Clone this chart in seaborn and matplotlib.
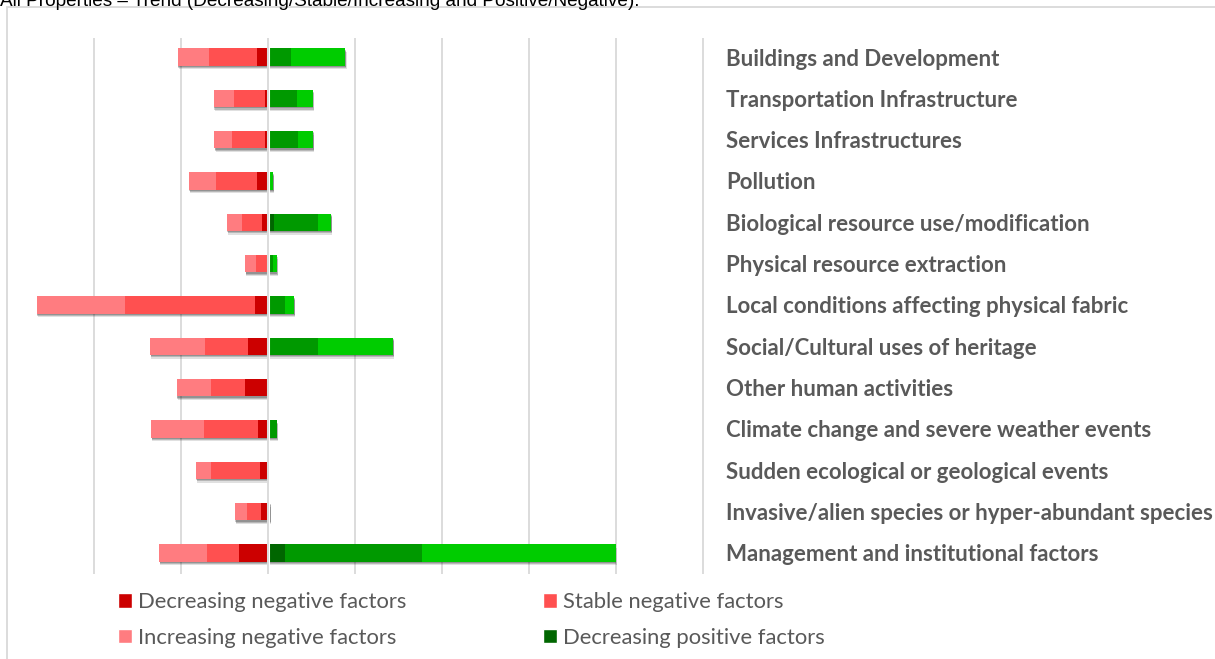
"""
Diverging stacked bar chart: trend of negative / positive factors per factor group
"""

import numpy as np
import pandas as pd
import seaborn as sns
import matplotlib.pyplot as plt
import matplotlib.patheffects as pe
from matplotlib.patches import Rectangle, Patch

sns.set_style('white')
plt.rcParams['font.family'] = ['Lato', 'DejaVu Sans']

title = "All Properties \u2013 Trend (Decreasing/Stable/Increasing and Positive/Negative)."

categories = [
    "Buildings and Development",
    "Transportation Infrastructure",
    "Services Infrastructures",
    "Pollution",
    "Biological resource use/modification",
    "Physical resource extraction",
    "Local conditions affecting physical fabric",
    "Social/Cultural uses of heritage",
    "Other human activities",
    "Climate change and severe weather events",
    "Sudden ecological or geological events",
    "Invasive/alien species or hyper-abundant species",
    "Management and institutional factors",
]

# values (one gridline = 10)
dec_neg = [1.3, 0.35, 0.35, 1.3, 0.7, 0.0, 1.5, 2.35, 2.65, 1.15, 0.95, 0.85, 3.35]
stable_neg = [5.5, 3.6, 3.8, 4.7, 2.25, 1.4, 14.9, 4.9, 3.95, 6.2, 5.6, 1.55, 3.65]
inc_neg = [3.6, 2.3, 2.0, 3.1, 1.8, 1.2, 10.2, 6.3, 3.9, 6.1, 1.75, 1.4, 5.5]
dec_pos = [0.0, 0.0, 0.0, 0.0, 0.7, 0.0, 0.0, 0.0, 0.0, 0.0, 0.0, 0.0, 2.0]
stable_pos = [2.6, 3.3, 3.45, 0.0, 5.0, 0.55, 1.95, 5.7, 0.0, 1.0, 0.0, 0.25, 15.75]
inc_pos = [6.3, 1.85, 1.75, 0.6, 1.55, 0.45, 1.05, 8.7, 0.0, 0.0, 0.0, 0.0, 22.2]

series_names = ["Decreasing negative factors", "Stable negative factors",
                "Increasing negative factors", "Decreasing positive factors",
                "Stable positive factors", "Increasing positive factors"]
colors = ["#CC0000", "#FF5050", "#FF7C80", "#006600", "#009900", "#00CC00"]

df = pd.DataFrame({"factor": categories,
                   "dec_neg": dec_neg, "stable_neg": stable_neg, "inc_neg": inc_neg,
                   "dec_pos": dec_pos, "stable_pos": stable_pos, "inc_pos": inc_pos})

W, H = 1215, 659
fig = plt.figure(figsize=(W / 100, H / 100), dpi=100)
x0, x1 = -27.0, 50.3
ppu = (703 - 94) / 70.0
left_px = 268 - (0 - x0) * ppu
ax = fig.add_axes([left_px / W, 1 - 574 / H, (x1 - x0) * ppu / W, (574 - 38) / H])

bar_h = 0.42
shadow = [pe.SimplePatchShadow(offset=(0.8, -2.6), shadow_rgbFace='black', alpha=0.12),
          pe.SimplePatchShadow(offset=(0.6, -1.8), shadow_rgbFace='black', alpha=0.18),
          pe.SimplePatchShadow(offset=(0.4, -1.0), shadow_rgbFace='black', alpha=0.2),
          pe.Normal()]

# negative side: draw cumulative layers from outermost to innermost
neg_layers = [(["dec_neg", "stable_neg", "inc_neg"], colors[2]),
              (["dec_neg", "stable_neg"], colors[1]),
              (["dec_neg"], colors[0])]
pos_layers = [(["dec_pos", "stable_pos", "inc_pos"], colors[5]),
              (["dec_pos", "stable_pos"], colors[4]),
              (["dec_pos"], colors[3])]

for sign, layers in [(-1, neg_layers), (1, pos_layers)]:
    for i, (cols, c) in enumerate(layers):
        vals = sign * df[cols].sum(axis=1)
        n_before = len(ax.patches)
        sns.barplot(x=vals, y=df["factor"], orient='h', color=c, saturation=1,
                    width=bar_h, linewidth=0, ax=ax, zorder=2)
        if i == 0:
            for p in ax.patches[n_before:]:
                p.set_path_effects(shadow)

# white gap + grey line at the centre
ax.axvline(0, color='white', lw=2.2, zorder=3)
ax.axvline(0, color='#D9D9D9', lw=1.3, zorder=4)

ax.set_xlim(x0, x1)
ax.set_ylim(len(categories) - 1 + 0.51, -0.46)
ax.set_xticks(np.arange(-20, 51, 10))
ax.set_xticklabels([])
ax.grid(axis='x', color='#D9D9D9', lw=1.3)
ax.grid(axis='y', visible=False)
ax.set_axisbelow(True)
for s in ax.spines.values():
    s.set_visible(False)
ax.set_xlabel('')
ax.set_ylabel('')
ax.tick_params(axis='x', length=0)
ax.yaxis.tick_right()
ax.tick_params(axis='y', length=0, pad=15, labelsize=16, labelcolor='#595959')
for lab in ax.get_yticklabels():
    lab.set_fontweight('bold')

# outer chart frame
fig.add_artist(Rectangle((7 / W, -0.2), 1.2, 1 - 7 / H + 0.2, transform=fig.transFigure,
                         fill=False, edgecolor='#D9D9D9', lw=1.3))

fig.text(0.0, 1 - 5.5 / H, title, va='baseline', ha='left', fontsize=13.7,
         family=['Liberation Sans', 'DejaVu Sans'], color='black')

# legend, row-wise order in two columns
handles = [Patch(facecolor=c, label=n) for c, n in zip(colors, series_names)]
order = [0, 2, 4, 1, 3, 5]
fig.legend([handles[i] for i in order], [series_names[i] for i in order],
           ncol=2, loc='upper left', bbox_to_anchor=(118 / W, 1 - 592 / H),
           frameon=False, fontsize=15.8, labelcolor='#595959',
           handlelength=0.64, handleheight=0.64, handletextpad=0.25,
           columnspacing=6.25, labelspacing=0.71, borderaxespad=0, borderpad=0)

fig.savefig('out.png', dpi=100)
